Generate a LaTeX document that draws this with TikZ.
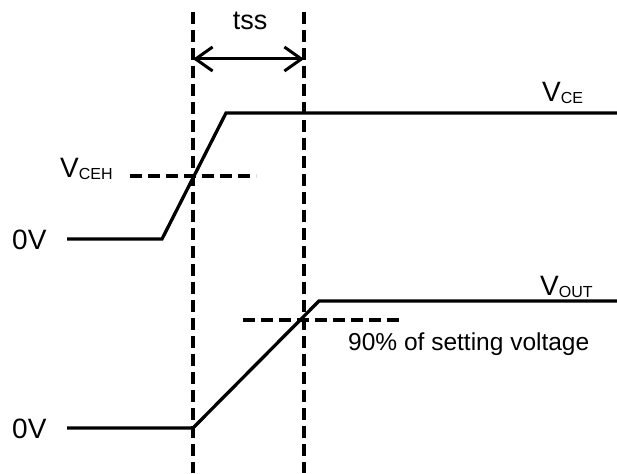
\documentclass[tikz,border=0pt]{standalone}
\usepackage{fontspec}
\setmainfont{Liberation Sans}
\usetikzlibrary{arrows.meta}

\begin{document}
\begin{tikzpicture}[x=1pt, y=-1pt,
  trace/.style={line width=3.3pt, line join=miter},
  guide/.style={line width=3.1pt, dash pattern=on 12pt off 6pt},
  span/.style={line width=3pt, {Straight Barb[length=17pt,width=24pt]}-{Straight Barb[length=17pt,width=24pt]}},
  lvl/.style={inner sep=0pt, anchor=base west, font=\fontsize{28}{28}\selectfont},
  sig/.style={inner sep=0pt, anchor=base west, font=\fontsize{28}{28}\selectfont},
  note/.style={inner sep=0pt, font=\fontsize{24.5}{24.5}\selectfont},
]
\newcommand{\sub}[1]{\raisebox{-2pt}{\fontsize{16}{16}\selectfont #1}}
\useasboundingbox (0,0) rectangle (617,473);

% timing guides
\foreach \n/\x in {a/193, b/304} {
  \coordinate (\n top) at (\x,12);
  \coordinate (\n bot) at (\x,473);
  \draw[guide] (\n top) -- (\n bot);
}
\coordinate (arL) at (193,59);
\coordinate (arR) at (304,59);
\draw[span] (arL) -- (arR);
\node[note, anchor=base, font=\fontsize{27}{27}\selectfont] (tss) at (250,30) {tss};

% V_CE trace
\coordinate (ce0) at (67,239);
\coordinate (ce1) at (162,239);
\coordinate (ce2) at (226,113);
\coordinate (ce3) at (617,113);
\draw[trace] (ce0) -- (ce1) -- (ce2) -- (ce3);
\coordinate (cehL) at (130,176);
\coordinate (cehR) at (256,176);
\draw[guide] (cehL) -- (cehR);
\node[lvl] (zeroA) at (12,249) {0V};
\node[sig] (vceh) at (60,177) {V\sub{CEH}};
\node[sig] (vce) at (542,102) {V\sub{CE}};

% V_OUT trace
\coordinate (out0) at (67,428);
\coordinate (out1) at (193,428);
\coordinate (out2) at (319,301);
\coordinate (out3) at (617,301);
\draw[trace] (out0) -- (out1) -- (out2) -- (out3);
\coordinate (nineL) at (243,320);
\coordinate (nineR) at (402,320);
\draw[guide] (nineL) -- (nineR);
\node[lvl] (zeroB) at (12,438) {0V};
\node[sig] (vout) at (540,295) {V\sub{OUT}};
\node[note, anchor=base west] (pct) at (348,350) {90\% of setting voltage};
\end{tikzpicture}
\end{document}
